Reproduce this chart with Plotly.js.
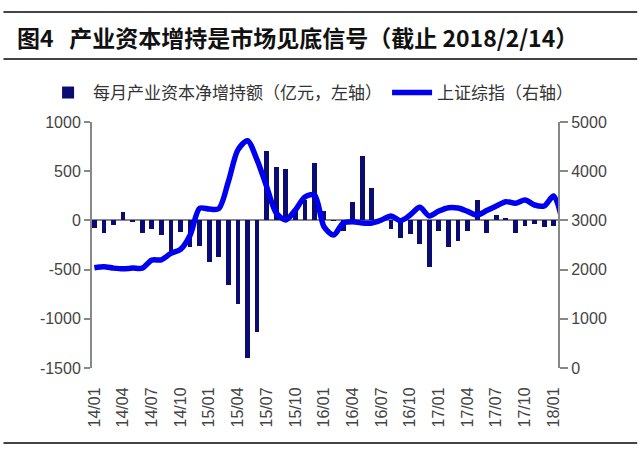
<!DOCTYPE html>
<html>
<head>
<meta charset="utf-8">
<script src="https://cdn.plot.ly/plotly-3.0.1.min.js"></script>
<style>
  html, body { margin: 0; padding: 0; background: #fff; }
  #chart { width: 640px; height: 449px; }
</style>
</head>
<body>
<div id="chart"></div>
<script>
// 月份（柱子 14/01 - 18/01，折线多一个 18/02）
const months = [
  '14/01','14/02','14/03','14/04','14/05','14/06','14/07','14/08','14/09','14/10','14/11','14/12',
  '15/01','15/02','15/03','15/04','15/05','15/06','15/07','15/08','15/09','15/10','15/11','15/12',
  '16/01','16/02','16/03','16/04','16/05','16/06','16/07','16/08','16/09','16/10','16/11','16/12',
  '17/01','17/02','17/03','17/04','17/05','17/06','17/07','17/08','17/09','17/10','17/11','17/12',
  '18/01','18/02'
];

// 每月产业资本净增持额（亿元）
const netBuy = [
  -75, -133, -50, 85, -20, -133, -85, -150, -330, -120, -270, -262,
  -422, -371, -653, -850, -1401, -1136, 707, 544, 520, 110, 210, 588,
  95, -10, -110, 190, 656, 326, 10, -92, -177, -136, -240, -476,
  -109, -272, -211, -109, 204, -129, 51, 20, -129, -61, -41, -65,
  -61
];

// 上证综指
const sse = [
  2036, 2057, 2030, 2016, 2030, 2030, 2193, 2200, 2329, 2411, 2700, 3246,
  3231, 3240, 3789, 4434, 4620, 4230, 3687, 3150, 3010, 3212, 3475, 3517,
  2872, 2703, 2946, 2974, 2946, 2946, 3008, 3090, 2994, 3110, 3266, 3090,
  3191, 3259, 3252, 3184, 3110, 3200, 3293, 3381, 3348, 3415, 3313, 3293,
  3497, 2900
];

const leftTicks = [-1500, -1000, -500, 0, 500, 1000];
const rightTicks = [0, 1000, 2000, 3000, 4000, 5000];

const tickIdx = [];
for (let i = 0; i < months.length - 1; i += 3) tickIdx.push(i);

const barTrace = {
  type: 'bar',
  name: '每月产业资本净增持额（亿元，左轴）',
  x: netBuy.map((v, i) => i),
  y: netBuy,
  width: 0.5,
  marker: { color: '#0b0b74' },
  yaxis: 'y'
};

const lineTrace = {
  type: 'scatter',
  mode: 'lines',
  name: '上证综指（右轴）',
  x: sse.map((v, i) => i),
  y: sse,
  line: { color: '#0000f0', width: 5.5, shape: 'spline', smoothing: 0.8 },
  yaxis: 'y2'
};

const axisFont = { family: 'Liberation Sans, Arial, sans-serif', size: 16, color: '#444' };

const layout = {
  width: 640,
  height: 449,
  margin: { l: 92, r: 82, t: 122, b: 81 },
  paper_bgcolor: '#fff',
  plot_bgcolor: '#fff',
  showlegend: true,
  bargap: 0,
  legend: {
    orientation: 'h',
    x: -0.105, xanchor: 'left',
    y: 1.118, yanchor: 'middle',
    font: { family: 'Noto Sans CJK SC, sans-serif', size: 17, color: '#333' },
    itemwidth: 40,
    traceorder: 'normal'
  },
  xaxis: {
    range: [-0.25, 48.45],
    tickvals: tickIdx,
    ticktext: tickIdx.map(i => months[i]),
    tickangle: -90,
    tickfont: { family: 'Liberation Sans, Arial, sans-serif', size: 16, color: '#444' },
    showgrid: false,
    zeroline: false,
    showline: false,
    ticks: 'outside',
    ticklen: 12,
    tickcolor: 'rgba(0,0,0,0)'
  },
  yaxis: {
    range: [-1500, 1000],
    tickvals: leftTicks,
    ticktext: leftTicks.map(String),
    tickfont: axisFont,
    showgrid: false,
    zeroline: true,
    zerolinecolor: '#888',
    zerolinewidth: 2,
    showline: true,
    linecolor: '#888',
    linewidth: 2,
    ticks: 'outside',
    ticklen: 6,
    tickwidth: 2,
    tickcolor: '#888'
  },
  yaxis2: {
    overlaying: 'y',
    side: 'right',
    range: [0, 5000],
    tickvals: rightTicks,
    ticktext: rightTicks.map(String),
    tickfont: axisFont,
    showgrid: false,
    zeroline: false,
    showline: true,
    linecolor: '#888',
    linewidth: 2,
    ticks: 'outside',
    ticklen: 8,
    tickwidth: 2,
    tickcolor: '#888'
  },
  annotations: [{
    xref: 'paper', yref: 'paper',
    x: -0.165, y: 1.346,
    xanchor: 'left', yanchor: 'middle',
    showarrow: false,
    text: '<b>图4&nbsp;&nbsp;&nbsp;产业资本增持是市场见底信号（截止 2018/2/14）</b>',
    font: { family: 'Noto Sans CJK SC, sans-serif', size: 23, color: '#111' }
  }],
  shapes: [
    { type: 'line', xref: 'paper', yref: 'paper', x0: -0.19, x1: 1.17, y0: 1.447, y1: 1.447,
      line: { color: '#444', width: 2 } },
    { type: 'line', xref: 'paper', yref: 'paper', x0: -0.19, x1: 1.17, y0: 1.256, y1: 1.256,
      line: { color: '#444', width: 2 } },
    { type: 'line', xref: 'paper', yref: 'paper', x0: -0.19, x1: 1.17, y0: -0.305, y1: -0.305,
      line: { color: '#444', width: 2 } }
  ]
};

Plotly.newPlot('chart', [barTrace, lineTrace], layout, { displayModeBar: false, staticPlot: true });
</script>
</body>
</html>
